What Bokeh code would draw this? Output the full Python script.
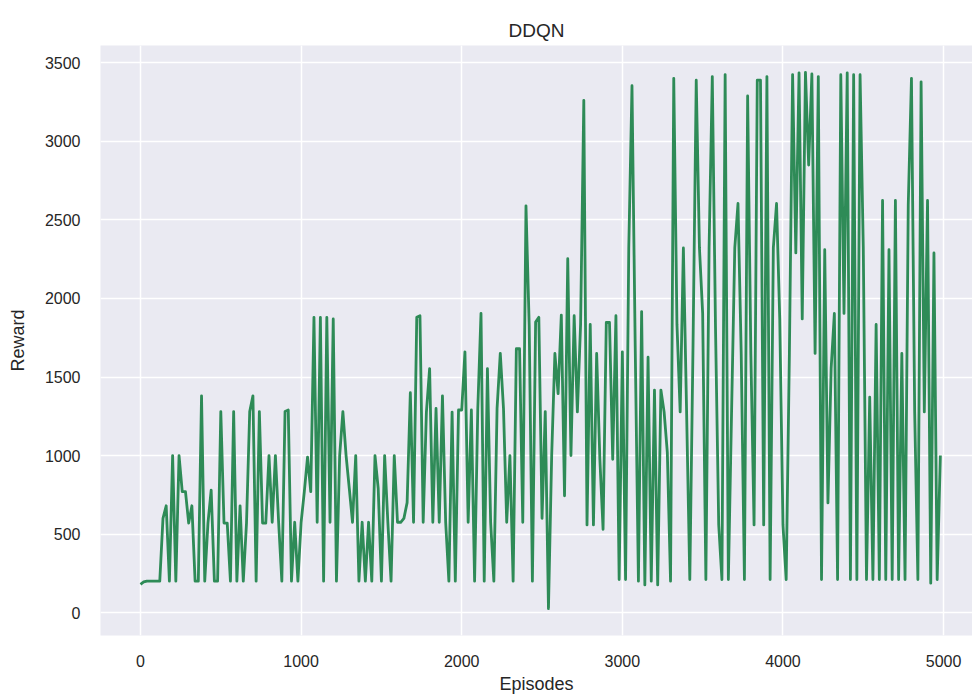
from bokeh.plotting import figure
from bokeh.models import Range1d, FixedTicker
from bokeh.embed import file_html
from bokeh.resources import INLINE

# DDQN reward per logged episode (one entry every 20 episodes)
episodes = list(range(0, 5000, 20))
rewards = [
    180, 195, 200, 200, 200, 200, 200, 600, 680, 200,
    1000, 200, 1000, 770, 770, 570, 680, 200, 200, 1380,
    200, 570, 780, 200, 200, 1280, 570, 570, 200, 1280,
    200, 680, 200, 570, 1280, 1380, 200, 1280, 570, 570,
    1000, 575, 1000, 575, 200, 1280, 1290, 200, 575, 200,
    575, 770, 990, 770, 1880, 575, 1880, 200, 1880, 575,
    1870, 200, 1000, 1280, 1000, 790, 575, 1000, 200, 575,
    200, 575, 200, 1000, 790, 200, 1000, 575, 200, 1000,
    575, 575, 600, 700, 1400, 575, 1880, 1890, 575, 1277,
    1554, 575, 1300, 575, 1380, 575, 200, 1277, 200, 1290,
    1290, 1660, 575, 1290, 200, 1300, 1905, 200, 1554, 575,
    200, 1300, 1650, 1300, 575, 1000, 200, 1680, 1680, 575,
    2590, 1830, 200, 1850, 1880, 600, 1280, 25, 1000, 1650,
    1394, 1894, 744, 2253, 1000, 1890, 1278, 1835, 3262, 558,
    1835, 558, 1650, 976, 530, 1847, 1847, 976, 1890, 210,
    1660, 210, 2322, 3355, 1700, 200, 1917, 176, 1626, 200,
    1417, 176, 1417, 1278, 1020, 200, 3402, 1835, 1278, 2322,
    1278, 210, 1700, 3390, 2322, 1905, 210, 2322, 3413, 1813,
    558, 210, 3426, 210, 1278, 2322, 2605, 1650, 210, 3290,
    1650, 558, 3390, 3390, 558, 3413, 210, 2322, 2605, 1870,
    558, 210, 1650, 3426, 2290, 3437, 1870, 3440, 2850, 3430,
    1650, 3413, 210, 2311, 698, 1557, 1905, 210, 3425, 1905,
    3437, 210, 3425, 210, 3425, 2330, 210, 1371, 210, 1835,
    210, 2624, 210, 2311, 210, 2624, 210, 1650, 210, 2595,
    3402, 1278, 210, 3380, 1278, 2624, 187, 2290, 210, 1000,
]
x_ticks = [0, 1000, 2000, 3000, 4000, 5000]
y_ticks = [0, 500, 1000, 1500, 2000, 2500, 3000, 3500]

FONT = "Liberation Sans"
TXT = "#262626"

p = figure(
    frame_width=872, frame_height=590,
    min_border_left=100, min_border_right=0,
    min_border_top=45, min_border_bottom=63,
    x_range=Range1d(-249, 5180), y_range=Range1d(-146, 3611),
    output_backend="svg", toolbar_location=None,
    title="DDQN",
)
p.line(episodes, rewards, line_color="#2E8B57", line_width=2.8, line_join="round")

p.background_fill_color = "#EAEAF2"
p.border_fill_color = "white"
p.outline_line_color = None

p.title.align = "center"
p.title.text_font = FONT
p.title.text_font_size = "19px"
p.title.text_font_style = "normal"
p.title.text_color = TXT

for g in (p.xgrid, p.ygrid):
    g.grid_line_color = "white"
    g.grid_line_width = 1.5
p.xaxis.ticker = FixedTicker(ticks=x_ticks)
p.yaxis.ticker = FixedTicker(ticks=y_ticks)

for ax in (p.xaxis, p.yaxis):
    ax.axis_line_color = None
    ax.major_tick_line_color = None
    ax.minor_tick_line_color = None
    ax.major_label_text_font = FONT
    ax.major_label_text_font_size = "16px"
    ax.major_label_text_color = TXT
    ax.axis_label_text_font = FONT
    ax.axis_label_text_font_size = "18px"
    ax.axis_label_text_font_style = "normal"
    ax.axis_label_text_color = TXT

p.xaxis.axis_label = "Episodes"
p.yaxis.axis_label = "Reward"
p.xaxis.major_label_standoff = 13
p.yaxis.major_label_standoff = 14
p.xaxis.axis_label_standoff = 4
p.yaxis.axis_label_standoff = 14

open("out.html", "w").write(file_html(p, INLINE))
